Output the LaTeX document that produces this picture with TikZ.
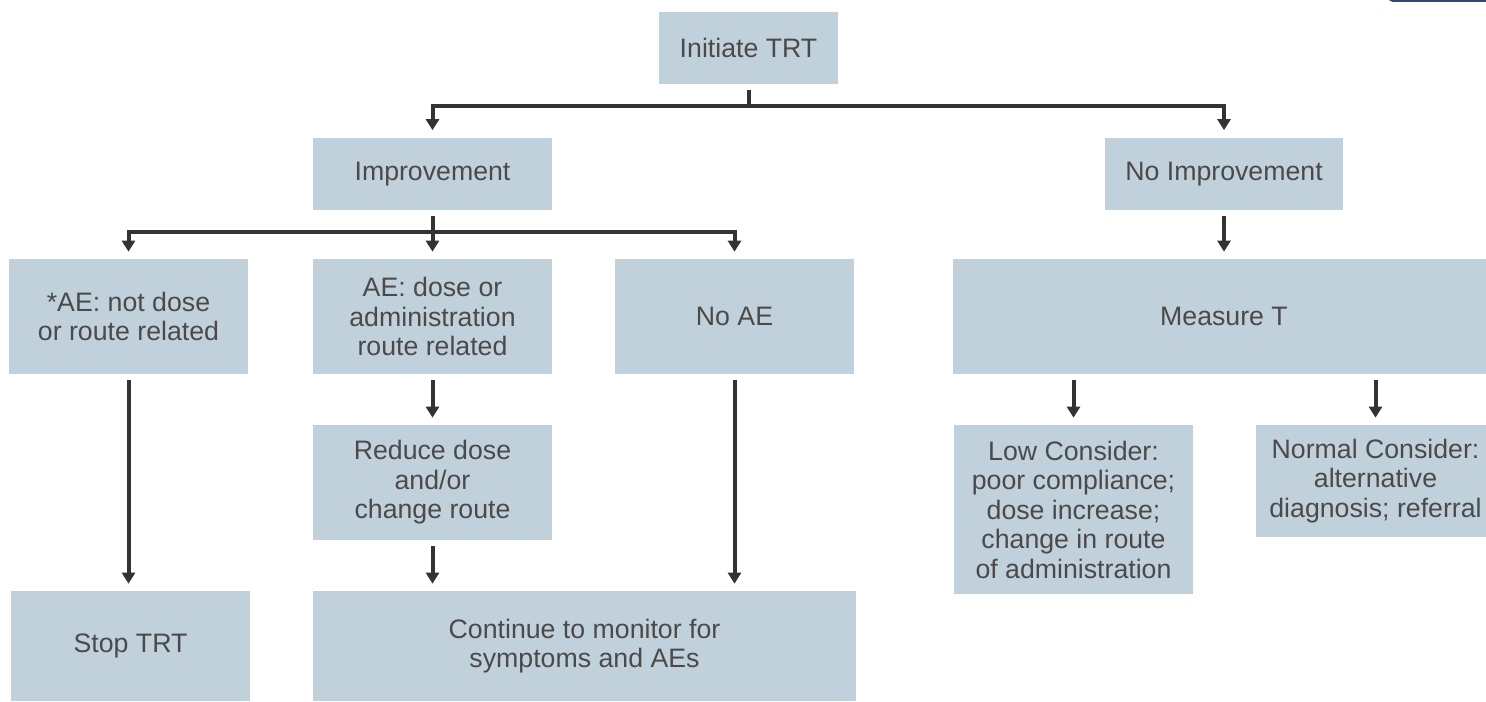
\documentclass[tikz,border=0pt]{standalone}
\usepackage{fontspec}
\setmainfont{Liberation Sans}
\usetikzlibrary{arrows.meta}
\definecolor{boxfill}{HTML}{C1D1DB}
\definecolor{boxtext}{HTML}{4A4A4A}
\definecolor{linegray}{HTML}{333333}
\definecolor{tabblue}{HTML}{2C4A6B}
\tikzset{
  box/.style={fill=boxfill, text=boxtext, align=center, inner sep=0pt,
              font=\fontsize{15.2pt}{16.8pt}\selectfont},
  wide/.style={minimum width=4.78cm},
  conn/.style={draw=linegray, line width=0.08cm, line join=miter},
  flow/.style={conn, -{Triangle[width=0.26cm,length=0.22cm]},
               shorten >=0.14cm},
}
\begin{document}
\begin{tikzpicture}[x=0.02cm,y=-0.02cm]
\clip (0,0) rectangle (1486,702);
\fill[white] (0,0) rectangle (1486,702);
\fill[tabblue, rounded corners=0.1cm] (1388,-20) rectangle (1500,2);

\node (init) at (748.5,48) [box, minimum width=3.58cm, minimum height=1.46cm] {Initiate TRT};
\node (impr) at (432.5,174) [box, wide, minimum height=1.46cm] {Improvement};
\node (noimpr) at (1224,174) [box, wide, minimum height=1.46cm] {No Improvement};

\node (aenot) at (128.5,316.5) [box, wide, minimum height=2.3cm] {*AE: not dose\\or route related};
\node (aedose) at (432.5,316.5) [box, wide, minimum height=2.3cm] {AE: dose or\\administration\\route related};
\node (noae) at (734.5,316.5) [box, wide, minimum height=2.3cm] {No AE};
\node (measure) at (1224,316.5) [box, minimum width=10.84cm, minimum height=2.3cm] {Measure T};

\node (reduce) at (432.5,482.5) [box, wide, minimum height=2.3cm] {Reduce dose\\and/or\\change route};
\node (low) at (1073.5,509.5) [box, wide, minimum height=3.38cm] {Low Consider:\\poor compliance;\\dose increase;\\change in route\\of administration};
\node (normal) at (1375.5,481) [box, wide, minimum height=2.24cm] {Normal Consider:\\alternative\\diagnosis; referral};

\node (stop) at (130.5,646) [box, wide, minimum height=2.2cm] {Stop TRT};
\node (cont) at (584.5,646) [box, minimum width=10.86cm, minimum height=2.2cm] {Continue to monitor for\\symptoms and AEs};

\coordinate (split1) at (748.5,106);
\coordinate (split2) at (432.5,232);

\draw[conn, shorten <=0.1cm] (init.south) -- (split1);
\draw[flow] (split1) -| (impr.north);
\draw[flow] (split1) -| (noimpr.north);

\draw[conn, shorten <=0.1cm] (impr.south) -- (split2);
\draw[flow] (split2) -| (aenot.north);
\draw[flow] (split2) -- (aedose.north);
\draw[flow] (split2) -| (noae.north);

\draw[flow, shorten <=0.1cm] (noimpr.south) -- (measure.north);
\draw[flow, shorten <=0.12cm] (measure.south -| low.north) -- (low.north);
\draw[flow, shorten <=0.12cm] (measure.south -| normal.north) -- (normal.north);

\draw[flow, shorten <=0.12cm] (aenot.south) -- (aenot.south |- stop.north);
\draw[flow, shorten <=0.12cm] (aedose.south) -- (reduce.north);
\draw[flow, shorten <=0.12cm] (reduce.south) -- (reduce.south |- cont.north);
\draw[flow, shorten <=0.12cm] (noae.south) -- (noae.south |- cont.north);
\end{tikzpicture}
\end{document}
